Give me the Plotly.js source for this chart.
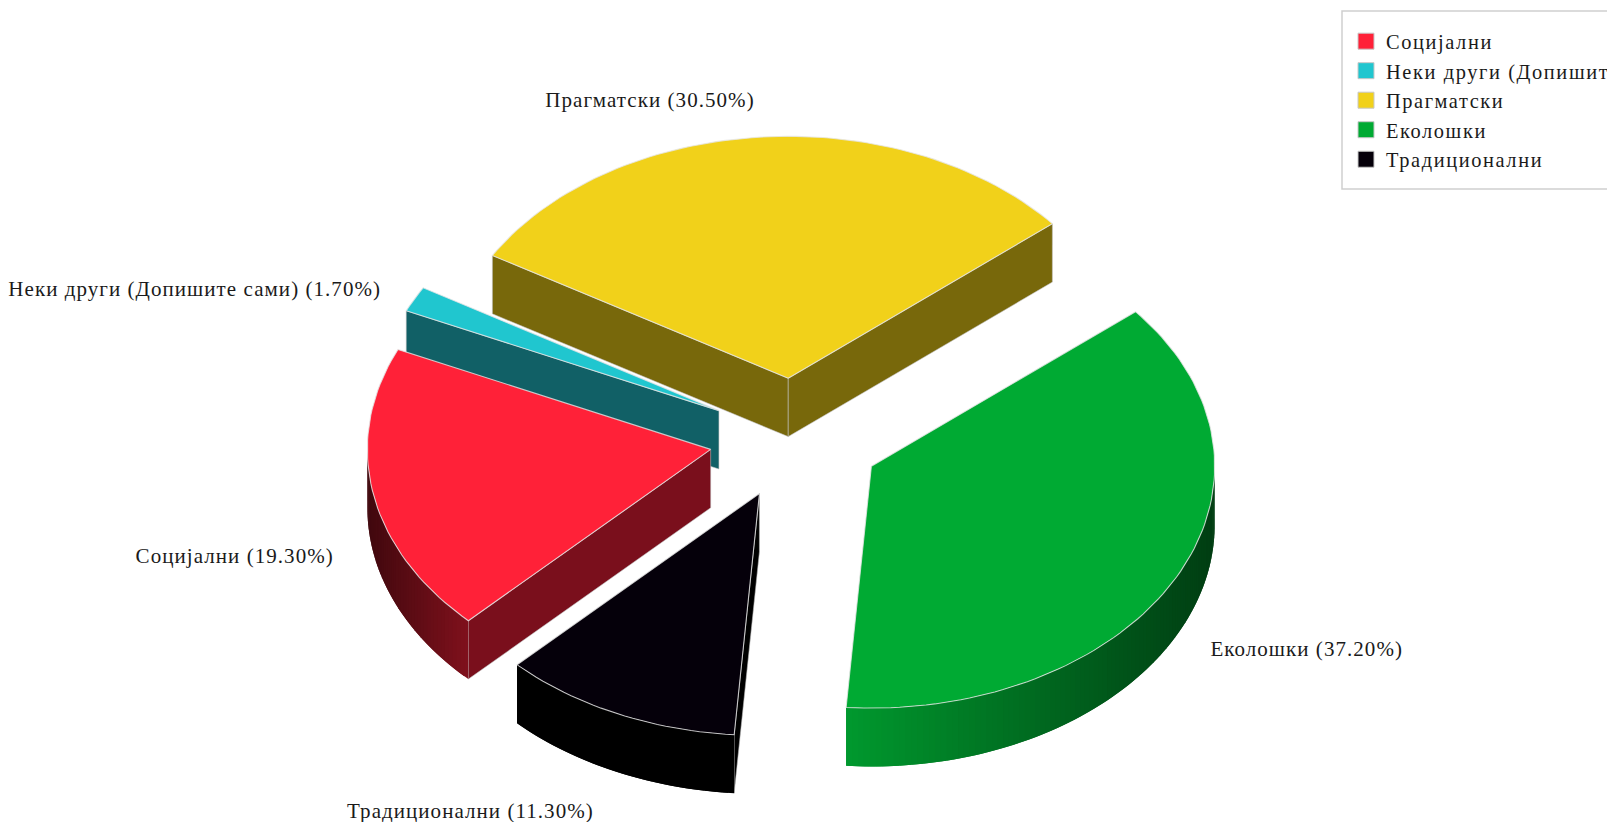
<!DOCTYPE html>
<html><head><meta charset="utf-8">
<script src="https://cdn.plot.ly/plotly-3.0.1.min.js"></script>
<style>html,body{margin:0;padding:0;background:#fff;overflow:hidden}#c{width:1607px;height:822px}
.legendtext{letter-spacing:1.6px}.textpoint text{letter-spacing:1.05px}</style>
</head><body><div id="c"></div>
<script>
// data, in legend order
const categories = ['Социјални','Неки други (Допишите сами)','Прагматски','Еколошки','Традиционални'];
const percents = [19.3,1.7,30.5,37.2,11.3];
// styles
const topColors = ['#FF2138','#20C6CF','#F1D11A','#00AA33','#05000A'];
const sideColors = ['#7A0F1C','#116066','#78680B','#00551A','#000000'];
const rimShades = [[0.25,0.5],[0.5,0.5],[0.5,0.5],[0.9,0.36],[0,0]];
const labelAnchors = [[234.7,557.5],[194.7,291],[650,101.4],[1306.7,650.8],[470.4,812.7]];
const drawOrder = [2,1,0,4,3];
// projection of the pie in pixel-like axis units
const CX=795.1, CY=438.5, RX=343.3, RY=241.9, DEPTH=58.4, EXPLODE=0.25, START=224.9;
const rad=d=>d*Math.PI/180;
const total=percents.reduce((a,b)=>a+b,0);
let acc=START;
const slices=percents.map((p,i)=>{const a0=acc,a1=acc+p/total*360;acc=a1;
  const m=rad((a0+a1)/2);
  return {i,a0,a1,ax:CX+EXPLODE*RX*Math.sin(m),ay:CY-EXPLODE*RY*Math.cos(m)};});
const rim=(s,a)=>[s.ax+RX*Math.sin(rad(a)),s.ay-RY*Math.cos(rad(a))];
const EDGE='rgba(230,230,230,0.8)', WALLEDGE='rgba(190,190,190,0.55)';
const traces=[];
function poly(pts,fill,line,w){traces.push({type:'scatter',mode:'lines',x:pts.map(p=>p[0]),y:pts.map(p=>p[1]),
  fill:'toself',fillcolor:fill,line:{color:line,width:w},showlegend:false,hoverinfo:'skip'});}
function shade(hex,k){const n=parseInt(hex.slice(1),16);
  return `rgb(${Math.round((n>>16&255)*k)},${Math.round((n>>8&255)*k)},${Math.round((n&255)*k)})`;}
function wall(s,a){const r=rim(s,a);
  poly([[s.ax,s.ay],r,[r[0],r[1]+DEPTH],[s.ax,s.ay+DEPTH],[s.ax,s.ay]],sideColors[s.i],WALLEDGE,1);}
drawOrder.forEach(i=>{const s=slices[i];
  // radial walls facing the viewer
  if(Math.sin(rad(s.a0))<0) wall(s,s.a0);
  if(Math.sin(rad(s.a1))>0) wall(s,s.a1);
  // outer rim, only the front half
  const vis=[];
  for(let k=-1;k<=1;k++){const lo=Math.max(s.a0,90+360*k),hi=Math.min(s.a1,270+360*k);if(hi>lo)vis.push([lo,hi]);}
  vis.forEach(([lo,hi])=>{
    const N=Math.max(4,Math.ceil(hi-lo));
    const xs=[];for(let j=0;j<=N;j++)xs.push(rim(s,lo+(hi-lo)*j/N)[0]);
    const xmin=Math.min(...xs),xmax=Math.max(...xs);
    const base=topColors[i]; const [kl,kr]=rimShades[i];
    const step=(hi-lo)/N;
    for(let j=0;j<N;j++){
      // every band runs on under the next one so no seam shows
      const a=lo+step*j,b=lo+step*(j+1),e=Math.min(hi,b+step);
      const p=rim(s,a),q=rim(s,b),r=rim(s,e);
      const t=((p[0]+q[0])/2-xmin)/((xmax-xmin)||1);
      const c=i===4?'#000000':shade(base,kl+(kr-kl)*t);
      poly([p,q,r,[r[0],r[1]+DEPTH],[q[0],q[1]+DEPTH],[p[0],p[1]+DEPTH],p],c,c,0);
    }
  });
  // top face
  const pts=[[s.ax,s.ay]];const M=Math.ceil((s.a1-s.a0)/1.5);
  for(let j=0;j<=M;j++)pts.push(rim(s,s.a0+(s.a1-s.a0)*j/M));
  pts.push([s.ax,s.ay]);
  poly(pts,topColors[i],EDGE,1.1);
});
// legend entries
categories.forEach((c,i)=>traces.push({type:'scatter',mode:'markers',x:[null],y:[null],name:c,
  marker:{symbol:'square',size:17,color:topColors[i],line:{color:'#c8c8c8',width:1}},hoverinfo:'skip'}));
// data labels
traces.push({type:'scatter',mode:'text',x:labelAnchors.map(p=>p[0]),y:labelAnchors.map(p=>p[1]),
  text:categories.map((c,i)=>`${c} (${percents[i].toFixed(2)}%)`),textposition:'middle center',
  textfont:{family:'"Liberation Serif",serif',size:21,color:'#1a1a1a'},showlegend:false,hoverinfo:'skip',cliponaxis:false});
const layout={width:1607,height:822,margin:{l:0,r:0,t:0,b:0,autoexpand:false},paper_bgcolor:'#fff',plot_bgcolor:'#fff',showlegend:true,
  xaxis:{range:[0,1607],visible:false,fixedrange:true},
  yaxis:{range:[822,0],visible:false,fixedrange:true},
  legend:{x:1346/1607,xanchor:'left',y:1-21.4/822,yanchor:'top',bgcolor:'rgba(0,0,0,0)',borderwidth:0,
    font:{family:'"Liberation Serif",serif',size:20.4,color:'#1a1a1a'},itemwidth:30,itemclick:false,itemdoubleclick:false,
    entrywidth:221,entrywidthmode:'pixels',traceorder:'normal'},
  shapes:[{type:'rect',xref:'x',yref:'y',x0:1342,x1:1640,y0:11,y1:189,line:{color:'#cfcfcf',width:1.5},fillcolor:'rgba(0,0,0,0)',layer:'below'}]};
Plotly.newPlot('c',traces,layout,{staticPlot:true,displayModeBar:false});
</script></body></html>
